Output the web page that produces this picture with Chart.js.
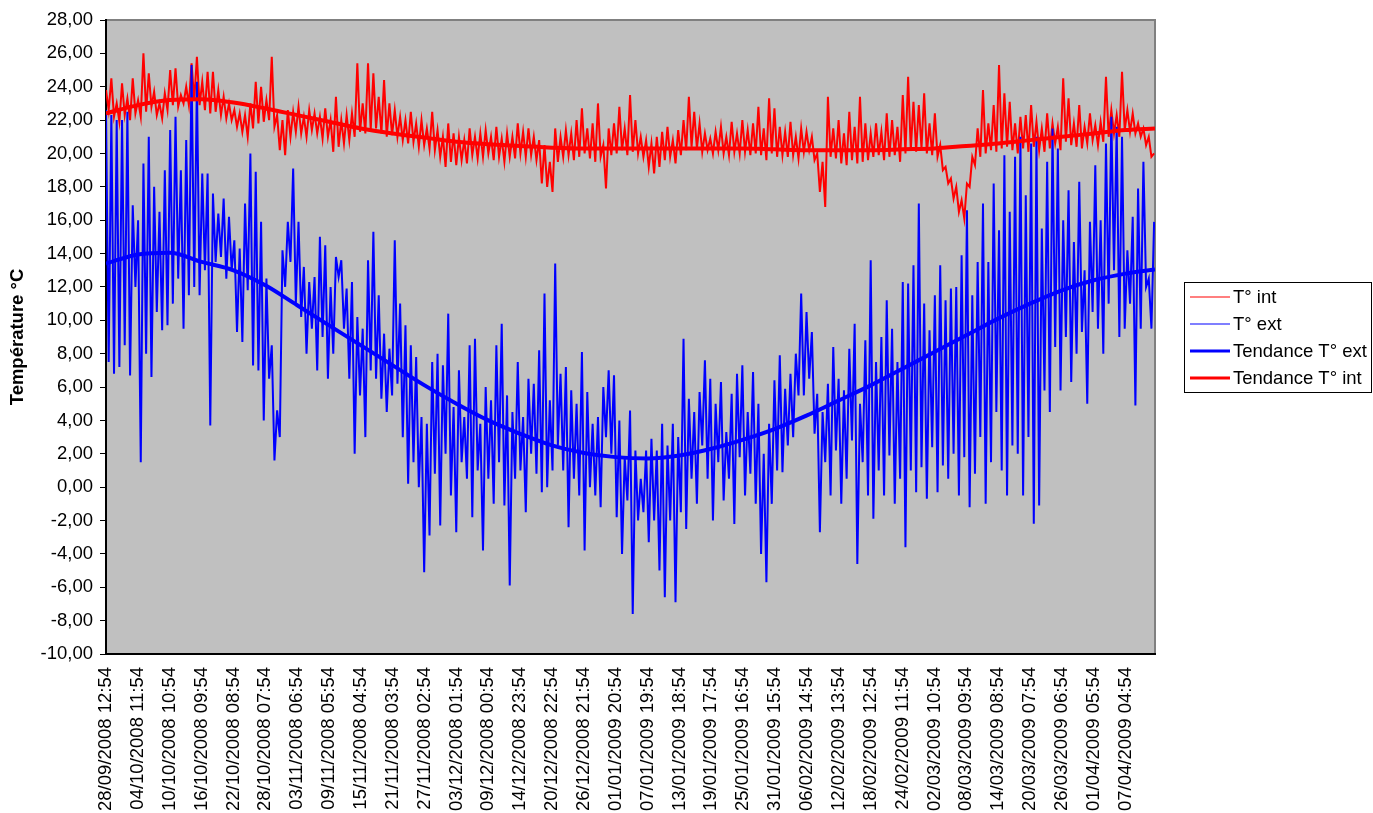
<!DOCTYPE html>
<html lang="fr">
<head>
<meta charset="utf-8">
<title>Températures intérieure et extérieure</title>
<script src="https://cdn.jsdelivr.net/npm/chart.js@4.4.1/dist/chart.umd.min.js"></script>
<style>
  html, body { margin: 0; padding: 0; background: #ffffff; }
  canvas { display: block; }
</style>
</head>
<body>
<canvas id="chart" width="1373" height="813"></canvas>
<script>
// Category labels shown on the time axis (one every 143 hours)
const tickLabels = [
  "28/09/2008 12:54", "04/10/2008 11:54", "10/10/2008 10:54", "16/10/2008 09:54",
  "22/10/2008 08:54", "28/10/2008 07:54", "03/11/2008 06:54", "09/11/2008 05:54",
  "15/11/2008 04:54", "21/11/2008 03:54", "27/11/2008 02:54", "03/12/2008 01:54",
  "09/12/2008 00:54", "14/12/2008 23:54", "20/12/2008 22:54", "26/12/2008 21:54",
  "01/01/2009 20:54", "07/01/2009 19:54", "13/01/2009 18:54", "19/01/2009 17:54",
  "25/01/2009 16:54", "31/01/2009 15:54", "06/02/2009 14:54", "12/02/2009 13:54",
  "18/02/2009 12:54", "24/02/2009 11:54", "02/03/2009 10:54", "08/03/2009 09:54",
  "14/03/2009 08:54", "20/03/2009 07:54", "26/03/2009 06:54", "01/04/2009 05:54",
  "07/04/2009 04:54"
];
const HOURS_PER_LABEL = 143;
const LAST_HOUR = 4708;      // last recorded hour after the first label
const STEP_HOURS = 12;       // readings below are every 12 hours (afternoon / night)

// T° int : indoor temperature, afternoon / night readings
const tempInt = [
  23.8,22.6, 24.5,22.2, 23.0,21.9, 24.2,22.3, 23.3,22.0, 24.5,22.4, 23.2,22.2, 26.0,22.5, 24.8,22.8, 23.7,22.3,
  23.0,22.1, 23.6,22.6, 25.0,22.9, 25.1,22.8, 23.5,23.0, 24.0,22.9, 25.4,23.2, 25.8,22.9, 24.3,22.6, 24.9,22.4,
  24.9,22.5, 23.8,22.3, 23.4,22.1, 23.0,22.0, 22.6,21.6, 22.4,21.3, 22.3,21.0, 23.0,21.5, 24.3,21.8, 24.0,21.9,
  23.2,22.0, 25.8,21.6, 22.3,20.2, 22.0,19.9, 22.6,21.0, 22.5,21.3, 22.8,21.2, 22.2,21.0, 22.6,21.4, 22.4,21.2,
  22.2,20.9, 22.7,21.0, 22.0,20.1, 23.4,20.4, 22.0,20.6, 22.3,20.8, 22.4,21.0, 25.4,21.3, 23.0,21.2, 25.4,21.4,
  24.8,21.5, 23.4,21.2, 24.4,21.0, 23.0,21.1, 22.6,21.0, 22.2,20.8, 22.0,20.6, 22.5,20.7, 21.8,20.4, 22.0,20.5,
  21.5,20.3, 22.5,20.2, 21.4,19.8, 21.0,19.2, 21.8,19.5, 21.2,19.3, 21.0,19.6, 20.8,19.4, 21.5,19.9, 21.0,19.7,
  21.2,19.8, 21.4,20.0, 21.0,19.6, 21.6,19.8, 20.9,19.5, 21.2,19.8, 21.0,19.7, 21.8,20.0, 21.3,19.8, 21.5,19.9,
  21.0,19.6, 20.8,18.2, 20.5,18.0, 19.5,17.7, 21.5,19.5, 21.0,19.8, 21.4,19.9, 21.2,19.6, 22.0,19.8, 22.7,20.0,
  21.5,19.7, 21.8,19.5, 23.0,19.8, 20.5,17.9, 21.5,19.9, 21.8,20.0, 22.8,20.2, 21.5,19.9, 23.5,20.1, 22.0,20.0,
  21.0,19.8, 20.8,19.2, 20.6,18.8, 21.0,19.2, 21.3,19.6, 21.6,19.8, 20.8,19.4, 21.4,19.9, 22.0,20.2, 23.4,20.4,
  22.5,20.3, 21.8,20.1, 21.2,20.2, 20.9,20.0, 21.3,20.2, 21.6,20.0, 21.0,19.9, 21.9,20.1, 21.2,20.0, 22.0,20.1,
  21.4,19.9, 21.8,20.0, 22.8,19.9, 21.5,19.6, 23.3,20.0, 22.7,19.8, 21.6,19.9, 21.3,19.8, 21.9,19.9, 21.0,19.7,
  21.5,20.1, 21.3,20.2, 21.0,19.6, 20.0,17.7, 19.5,16.8, 23.4,19.8, 21.5,19.7, 22.0,19.4, 21.2,19.3, 22.5,19.6,
  21.6,19.4, 23.4,19.5, 21.8,19.6, 21.2,19.8, 21.8,19.9, 21.3,19.6, 22.4,19.8, 22.0,19.9, 21.6,19.5, 23.5,20.0,
  24.6,20.2, 23.1,20.1, 22.9,20.3, 23.6,20.0, 21.8,19.9, 22.4,19.8, 20.5,19.0, 19.2,18.2, 18.5,17.3, 18.0,16.5,
  17.2,16.1, 18.2,18.0, 19.8,19.3, 21.5,19.8, 23.8,20.0, 21.8,20.2, 22.9,20.1, 25.3,20.3, 23.6,20.4, 23.1,20.2,
  21.8,20.0, 22.2,20.3, 22.3,20.1, 22.9,20.4, 21.9,20.2, 21.5,20.1, 22.4,20.3, 21.8,20.6, 21.6,20.2, 24.5,20.7,
  23.3,20.5, 21.8,20.4, 22.9,20.3, 21.6,20.6, 22.4,20.8, 21.7,20.5, 21.9,20.7, 24.6,21.0, 22.6,21.2, 22.3,21.0,
  24.9,21.4, 22.6,21.3, 22.4,21.2, 21.8,21.0, 21.5,20.5, 21.0,19.8, 20.0
];

// T° ext : outdoor temperature, afternoon / night readings
const tempExt = [
  22.6,7.5, 22.3,6.8, 22.0,7.2, 22.0,8.5, 22.5,6.7, 16.9,12.0, 16.0,1.5, 19.4,8.0, 21.0,6.6, 18.0,10.5,
  16.5,9.4, 19.0,9.7, 21.4,11.0, 22.2,12.5, 19.0,9.5, 20.8,11.5, 25.3,12.0, 24.3,11.5, 18.8,13.0, 18.8,3.7,
  17.6,13.5, 16.4,13.8, 17.3,12.5, 16.2,13.0, 14.8,9.3, 14.3,8.7, 17.0,11.8, 20.0,7.3, 18.9,7.0, 15.9,4.0,
  12.5,6.5, 8.5,1.6, 4.6,3.0, 14.2,12.0, 15.9,13.5, 19.1,11.0, 15.9,10.2, 13.2,8.0, 12.3,9.5, 12.6,7.0,
  15.0,9.0, 14.5,6.5, 12.0,8.0, 13.8,12.6, 13.6,9.5, 11.9,6.5, 12.3,2.0, 10.2,5.5, 9.5,3.0, 13.6,7.0,
  15.3,6.5, 11.5,5.3, 9.2,4.5, 8.3,5.5, 14.8,6.2, 11.0,3.0, 9.7,0.2, 8.5,1.5, 7.8,0.0, 4.2,-5.1,
  3.8,-2.9, 7.5,0.8, 8.0,-2.3, 7.3,2.0, 10.4,-0.5, 4.8,-2.7, 7.0,1.5, 4.2,0.5, 8.5,-1.8, 8.9,1.0,
  3.8,-3.8, 6.0,0.5, 5.2,-1.0, 8.5,1.5, 9.8,-1.1, 5.5,-5.9, 4.5,0.5, 7.5,1.0, 4.2,-1.5, 6.5,2.0,
  6.2,0.8, 8.2,-0.3, 11.6,0.0, 5.2,1.0, 13.4,2.5, 6.8,1.0, 7.2,-2.4, 5.8,0.5, 5.0,-0.5, 8.1,-3.8,
  5.7,0.0, 3.8,-0.5, 4.2,-1.2, 6.0,3.0, 7.0,2.0, 6.7,-1.8, 4.0,-4.0, 1.8,-0.8, 4.6,-7.6, 2.2,-2.0,
  0.5,-1.5, 2.2,-3.3, 2.9,-2.0, 2.2,-5.0, 3.8,-6.6, 2.5,-2.0, 3.8,-6.9, 3.0,-1.5, 8.9,-2.5, 5.3,0.5,
  4.5,-1.0, 5.7,2.5, 7.6,0.5, 6.5,-2.0, 5.0,1.5, 6.3,-0.8, 3.3,0.5, 5.6,-2.2, 6.8,1.8, 7.3,-0.5,
  4.5,0.8, 6.9,-1.0, 5.0,-4.0, 2.0,-5.7, 3.8,-1.0, 6.4,1.0, 7.9,0.9, 5.9,2.5, 6.8,3.0, 8.0,5.5,
  11.6,5.5, 10.5,6.5, 9.3,3.2, 5.6,-2.7, 4.5,1.5, 6.2,-0.5, 8.4,2.2, 6.5,-1.0, 5.8,0.5, 8.3,2.8,
  9.8,-4.6, 5.0,1.5, 8.8,-0.5, 13.6,-1.9, 7.5,1.0, 9.0,-0.5, 11.2,1.9, 9.5,-1.0, 7.5,0.5, 12.3,-3.6,
  12.2,1.0, 13.3,-0.3, 17.0,1.2, 11.0,-0.7, 9.4,2.4, 11.5,-0.3, 13.3,1.3, 11.2,0.5, 11.9,2.0, 12.0,-0.5,
  13.9,1.8, 16.6,-1.2, 11.5,0.8, 13.5,3.0, 17.0,-1.0, 13.5,1.5, 18.2,4.5, 15.4,1.0, 19.9,-0.5, 16.5,2.5,
  19.8,2.0, 21.0,-0.5, 17.5,3.0, 20.6,-2.2, 21.0,-1.1, 15.5,5.8, 19.5,4.5, 21.5,8.4, 20.3,5.8, 16.0,9.0,
  17.8,6.3, 14.7,8.0, 18.3,9.3, 13.0,5.0, 15.9,10.5, 19.3,9.5, 16.0,8.0, 20.6,11.0, 22.2,13.0, 21.6,9.0,
  21.0,9.5, 14.2,11.0, 16.2,4.9, 17.9,9.5, 19.5,12.0, 12.5,9.5, 15.9
];

// Trend curves, read at every axis label and at the last hour
const trendExt = [
  13.4, 13.95, 14.05, 13.5, 13.0, 12.1, 10.9, 9.7, 8.5, 7.3, 6.1, 5.0, 4.0, 3.2, 2.5, 2.05, 1.8,
  1.72, 1.9, 2.3, 2.85, 3.5, 4.3, 5.2, 6.1, 7.1, 8.1, 9.1, 10.1, 11.0, 11.8, 12.4, 12.8, 13.05
];
const trendInt = [
  22.4, 22.9, 23.2, 23.25, 23.05, 22.7, 22.3, 21.9, 21.5, 21.2, 20.95, 20.7, 20.55, 20.45, 20.35, 20.3, 20.3,
  20.3, 20.3, 20.3, 20.3, 20.25, 20.2, 20.2, 20.2, 20.25, 20.3, 20.45, 20.6, 20.8, 21.0, 21.2, 21.4, 21.5
];

const FONT = "'Liberation Sans', Arial, sans-serif";
Chart.defaults.font.family = FONT;
Chart.defaults.color = '#000000';

const toPoints = (values, hourOf) => values.map((v, i) => ({ x: hourOf(i), y: v }));
const readingHour = i => i * STEP_HOURS;
const labelHours = tickLabels.map((_, i) => i * HOURS_PER_LABEL).concat([LAST_HOUR]);
const trendHour = i => labelHours[i];

// Grey plotting area with its grey top/right frame
const plotBackground = {
  id: 'plotBackground',
  beforeDraw(chart) {
    const { ctx, chartArea: a } = chart;
    ctx.save();
    ctx.fillStyle = '#ffffff';
    ctx.fillRect(0, 0, chart.width, chart.height);
    ctx.fillStyle = '#c0c0c0';
    ctx.fillRect(a.left, a.top, a.right - a.left, a.bottom - a.top);
    ctx.strokeStyle = '#808080';
    ctx.lineWidth = 2;
    ctx.beginPath();
    ctx.moveTo(a.left, a.top);
    ctx.lineTo(a.right, a.top);
    ctx.lineTo(a.right, a.bottom);
    ctx.stroke();
    ctx.restore();
  }
};

// Boxed legend to the right of the plot
const boxLegend = {
  id: 'boxLegend',
  afterDraw(chart) {
    const { ctx, chartArea: a } = chart;
    const x0 = a.right + 29, y0 = 282, w = 188, h = 111, rowH = 27;
    ctx.save();
    ctx.fillStyle = '#ffffff';
    ctx.fillRect(x0, y0, w, h);
    ctx.strokeStyle = '#000000';
    ctx.lineWidth = 1;
    ctx.strokeRect(x0 + 0.5, y0 + 0.5, w - 1, h - 1);
    ctx.font = "18.5px " + FONT;
    ctx.textBaseline = 'middle';
    ctx.textAlign = 'left';
    chart.data.datasets.forEach((ds, i) => {
      const y = y0 + 15 + i * rowH;
      ctx.strokeStyle = ds.borderColor;
      ctx.lineWidth = ds.borderWidth > 2 ? 3 : 1.2;
      ctx.beginPath();
      ctx.moveTo(x0 + 6, y);
      ctx.lineTo(x0 + 46, y);
      ctx.stroke();
      ctx.fillStyle = '#000000';
      ctx.fillText(ds.label, x0 + 49, y + 1);
    });
    ctx.restore();
  }
};

new Chart(document.getElementById('chart'), {
  type: 'line',
  data: {
    datasets: [
      {
        label: 'T° int',
        data: toPoints(tempInt, readingHour),
        borderColor: '#ff0000',
        borderWidth: 2,
        pointRadius: 0,
        tension: 0,
        order: 3
      },
      {
        label: 'T° ext',
        data: toPoints(tempExt, readingHour),
        borderColor: '#0000ff',
        borderWidth: 2,
        pointRadius: 0,
        tension: 0,
        order: 2
      },
      {
        label: 'Tendance T° ext',
        data: toPoints(trendExt, trendHour),
        borderColor: '#0000ff',
        borderWidth: 4,
        pointRadius: 0,
        cubicInterpolationMode: 'monotone',
        order: 1
      },
      {
        label: 'Tendance T° int',
        data: toPoints(trendInt, trendHour),
        borderColor: '#ff0000',
        borderWidth: 4,
        pointRadius: 0,
        cubicInterpolationMode: 'monotone',
        order: 0
      }
    ]
  },
  options: {
    responsive: false,
    animation: false,
    events: [],
    layout: { padding: { left: 0, right: 218, top: 20, bottom: 0 } },
    plugins: {
      legend: { display: false },
      tooltip: { enabled: false }
    },
    scales: {
      x: {
        type: 'linear',
        min: 0,
        max: LAST_HOUR,
        afterBuildTicks(scale) {
          scale.ticks = tickLabels.map((_, i) => ({ value: i * HOURS_PER_LABEL }));
        },
        afterFit(scale) { scale.height = 159; },
        grid: { display: false, drawTicks: false },
        border: { display: true, color: '#000000', width: 2 },
        ticks: {
          autoSkip: false,
          minRotation: 90,
          maxRotation: 90,
          padding: 13,
          color: '#000000',
          font: { size: 18.5 },
          callback: value => tickLabels[Math.round(value / HOURS_PER_LABEL)]
        }
      },
      y: {
        min: -10,
        max: 28,
        afterFit(scale) { scale.width = 106; },
        grid: { display: true, drawOnChartArea: false, drawTicks: true, tickLength: 6, color: '#000000', lineWidth: 1 },
        border: { display: true, color: '#000000', width: 2 },
        ticks: {
          stepSize: 2,
          padding: 7,
          color: '#000000',
          font: { size: 18.5 },
          callback: value => value.toFixed(2).replace('.', ',')
        },
        title: {
          display: true,
          text: 'Température °C',
          color: '#000000',
          font: { size: 18.5, weight: 'bold' },
          padding: { top: 7, bottom: 0 }
        }
      }
    }
  },
  plugins: [plotBackground, boxLegend]
});
</script>
</body>
</html>
